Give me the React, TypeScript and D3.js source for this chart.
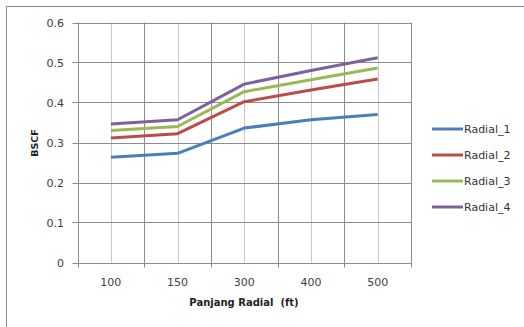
import React from "react";
import * as d3 from "d3";

const categories = ["100", "150", "300", "400", "500"];
const seriesNames = ["Radial_1", "Radial_2", "Radial_3", "Radial_4"];
const radial1 = [0.263, 0.273, 0.336, 0.357, 0.370];
const radial2 = [0.311, 0.322, 0.402, 0.431, 0.459];
const radial3 = [0.330, 0.340, 0.427, 0.457, 0.486];
const radial4 = [0.346, 0.357, 0.446, 0.480, 0.512];
const yTicks = [0, 0.1, 0.2, 0.3, 0.4, 0.5, 0.6];
const colors = ["#4A7EBB", "#BE4B48", "#98B954", "#7D60A0"];

export default function App() {
  const W = 524, H = 327;
  const left = 77.5, right = 411, top = 22.5, bottom = 262.5;
  const x = d3.scaleBand<string>().domain(categories).range([left, right]).padding(0);
  const y = d3.scaleLinear().domain([0, 0.6]).range([bottom, top]);
  const cx = (c: string) => (x(c) as number) + x.bandwidth() / 2;
  const data = [radial1, radial2, radial3, radial4];
  const line = d3.line<number>().x((_, i) => cx(categories[i])).y((v) => y(v));
  const boundaries = categories.map((c) => x(c) as number).concat([right]);
  const font = "'DejaVu Sans', Verdana, sans-serif";
  return (
    <svg width={W} height={H} style={{ position: "absolute", left: 0, top: 0 }}>
      <rect x={0} y={0} width={W} height={H} fill="#fff" />
      <line x1={6.5} y1={6.5} x2={W} y2={6.5} stroke="#888" strokeWidth={1} />
      <line x1={6.5} y1={6.5} x2={6.5} y2={H} stroke="#888" strokeWidth={1} />
      {categories.map((c) => (
        <line key={"cg" + c} x1={Math.round(cx(c)) + 0.5} x2={Math.round(cx(c)) + 0.5} y1={top} y2={bottom} stroke="#c8c8c8" />
      ))}
      {boundaries.map((b, i) => (
        <line key={"bg" + i} x1={Math.round(b) + 0.5} x2={Math.round(b) + 0.5} y1={top} y2={bottom + 5} stroke="#8c8c8c" />
      ))}
      {yTicks.map((t) => (
        <g key={"y" + t}>
          <line x1={left - 5} x2={right} y1={Math.round(y(t)) + 0.5} y2={Math.round(y(t)) + 0.5} stroke="#8c8c8c" />
          <text x={64} y={y(t) + 4} textAnchor="end" fontFamily={font} fontSize={11} fill="#404040">{String(t)}</text>
        </g>
      ))}
      {categories.map((c) => (
        <text key={"xl" + c} x={cx(c)} y={286} textAnchor="middle" fontFamily={font} fontSize={11} fill="#404040">{c}</text>
      ))}
      {data.map((d, i) => (
        <path key={"s" + i} d={line(d) || ""} fill="none" stroke={colors[i]} strokeWidth={3} strokeLinejoin="round" />
      ))}
      <text x={244} y={306} textAnchor="middle" fontFamily={font} fontSize={10} fontWeight="bold" fill="#222" style={{ whiteSpace: "pre" }}>Panjang Radial  (ft)</text>
      <text transform="translate(38,143) rotate(-90)" textAnchor="middle" fontFamily={font} fontSize={9.5} fontWeight="bold" fill="#222">BSCF</text>
      {seriesNames.map((s, i) => (
        <g key={"lg" + s}>
          <line x1={432} x2={463} y1={129 + i * 26} y2={129 + i * 26} stroke={colors[i]} strokeWidth={3} />
          <text x={464} y={129 + i * 26 + 4} fontFamily={font} fontSize={11} fill="#333">{s}</text>
        </g>
      ))}
    </svg>
  );
}
